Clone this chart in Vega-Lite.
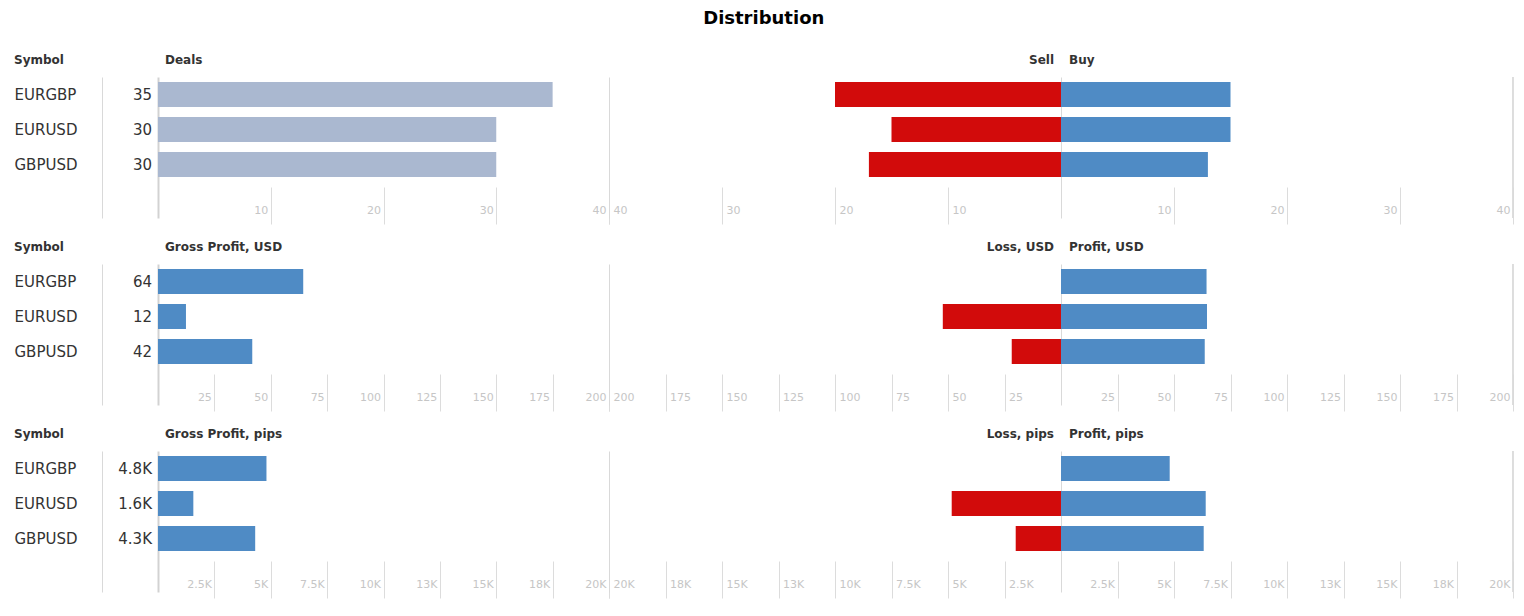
{
  "$schema": "https://vega.github.io/schema/vega-lite/v6.json",
  "title": {"text": "Distribution", "fontSize": 18, "fontWeight": "bold", "color": "#000000", "anchor": "middle", "frame": "bounds", "offset": 26},
  "padding": {"left": 14, "top": 9, "right": 10, "bottom": 10},
  "data": {"values": [
    {"Symbol": "EURGBP", "Deals": 35, "Sell": 20, "Buy": 15, "GrossUSD": 64.4, "LossUSD": 0, "ProfitUSD": 64.4, "GrossPips": 4810, "LossPips": 0, "ProfitPips": 4810},
    {"Symbol": "EURUSD", "Deals": 30, "Sell": 15, "Buy": 15, "GrossUSD": 12.4, "LossUSD": 52.3, "ProfitUSD": 64.6, "GrossPips": 1567, "LossPips": 4836, "ProfitPips": 6403},
    {"Symbol": "GBPUSD", "Deals": 30, "Sell": 17, "Buy": 13, "GrossUSD": 41.8, "LossUSD": 21.8, "ProfitUSD": 63.6, "GrossPips": 4310, "LossPips": 2004, "ProfitPips": 6314}
  ]},
  "bounds": "full",
  "spacing": 15,
  "vconcat": [
    {
      "bounds": "flush",
      "spacing": 0,
      "hconcat": [
        {
          "width": 56, "height": 141,
          "title": {"text": "Symbol", "anchor": "start", "dx": -88},
          "mark": {"type": "text", "align": "right", "baseline": "middle", "dx": -6, "fontSize": 15, "color": "#333333"},
          "encoding": {
            "y": {"field": "Symbol", "type": "nominal", "scale": {"type": "band", "paddingInner": 0.2857, "paddingOuter": 0.657, "align": 0.1087}, "axis": {"labels": true, "labelAlign": "left", "labelPadding": 88, "labelFontSize": 15, "labelColor": "#333333", "labelBaseline": "middle"}},
            "x": {"datum": 1, "type": "quantitative", "scale": {"domain": [0, 1]}, "axis": null},
            "text": {"field": "Deals", "type": "quantitative", "format": "d"}
          }
        },
        {
          "width": 451, "height": 141,
          "title": {"text": "Deals", "anchor": "start", "dx": 7},
          "mark": {"type": "bar", "color": "#aab8d0"},
          "encoding": {
            "y": {"field": "Symbol", "type": "nominal", "scale": {"type": "band", "paddingInner": 0.2857, "paddingOuter": 0.657, "align": 0.1087}, "axis": {"domainWidth": 2, "domainColor": "#d2d2d2"}},
            "x": {"field": "Deals", "type": "quantitative", "scale": {"domain": [0, 40]}, "axis": {"values": [10, 20, 30, 40], "labelAlign": "right", "labelOffset": -3}}
          }
        },
        {
          "width": 452, "height": 141,
          "title": {"text": "Sell", "anchor": "end", "dx": -7},
          "mark": {"type": "bar", "color": "#d20b0b"},
          "encoding": {
            "y": {"field": "Symbol", "type": "nominal", "scale": {"type": "band", "paddingInner": 0.2857, "paddingOuter": 0.657, "align": 0.1087}},
            "x": {"field": "Sell", "type": "quantitative", "scale": {"domain": [0, 40], "reverse": true}, "axis": {"values": [10, 20, 30, 40], "labelAlign": "left", "labelOffset": 4}}
          }
        },
        {
          "width": 452, "height": 141,
          "title": {"text": "Buy", "anchor": "start", "dx": 8},
          "layer": [
            {
              "mark": {"type": "bar", "color": "#4f8bc5"},
              "encoding": {
                "y": {"field": "Symbol", "type": "nominal", "scale": {"type": "band", "paddingInner": 0.2857, "paddingOuter": 0.657, "align": 0.1087}},
                "x": {"field": "Buy", "type": "quantitative", "scale": {"domain": [0, 40]}, "axis": {"values": [10, 20, 30, 40], "labelAlign": "right", "labelOffset": -3}}
              }
            },
            {
              "mark": {"type": "rule", "color": "#d9d9d9"},
              "encoding": {"x": {"datum": 40, "type": "quantitative"}}
            }
          ]
        }
      ]
    },
    {
      "bounds": "flush",
      "spacing": 0,
      "hconcat": [
        {
          "width": 56, "height": 141,
          "title": {"text": "Symbol", "anchor": "start", "dx": -88},
          "mark": {"type": "text", "align": "right", "baseline": "middle", "dx": -6, "fontSize": 15, "color": "#333333"},
          "encoding": {
            "y": {"field": "Symbol", "type": "nominal", "scale": {"type": "band", "paddingInner": 0.2857, "paddingOuter": 0.657, "align": 0.1087}, "axis": {"labels": true, "labelAlign": "left", "labelPadding": 88, "labelFontSize": 15, "labelColor": "#333333", "labelBaseline": "middle"}},
            "x": {"datum": 1, "type": "quantitative", "scale": {"domain": [0, 1]}, "axis": null},
            "text": {"field": "GrossUSD", "type": "quantitative", "format": "d"}
          }
        },
        {
          "width": 451, "height": 141,
          "title": {"text": "Gross Profit, USD", "anchor": "start", "dx": 7},
          "mark": {"type": "bar", "color": "#4f8bc5"},
          "encoding": {
            "y": {"field": "Symbol", "type": "nominal", "scale": {"type": "band", "paddingInner": 0.2857, "paddingOuter": 0.657, "align": 0.1087}, "axis": {"domainWidth": 2, "domainColor": "#d2d2d2"}},
            "x": {"field": "GrossUSD", "type": "quantitative", "scale": {"domain": [0, 200]}, "axis": {"values": [25, 50, 75, 100, 125, 150, 175, 200], "labelAlign": "right", "labelOffset": -3}}
          }
        },
        {
          "width": 452, "height": 141,
          "title": {"text": "Loss, USD", "anchor": "end", "dx": -7},
          "mark": {"type": "bar", "color": "#d20b0b"},
          "encoding": {
            "y": {"field": "Symbol", "type": "nominal", "scale": {"type": "band", "paddingInner": 0.2857, "paddingOuter": 0.657, "align": 0.1087}},
            "x": {"field": "LossUSD", "type": "quantitative", "scale": {"domain": [0, 200], "reverse": true}, "axis": {"values": [25, 50, 75, 100, 125, 150, 175, 200], "labelAlign": "left", "labelOffset": 4}}
          }
        },
        {
          "width": 452, "height": 141,
          "title": {"text": "Profit, USD", "anchor": "start", "dx": 8},
          "layer": [
            {
              "mark": {"type": "bar", "color": "#4f8bc5"},
              "encoding": {
                "y": {"field": "Symbol", "type": "nominal", "scale": {"type": "band", "paddingInner": 0.2857, "paddingOuter": 0.657, "align": 0.1087}},
                "x": {"field": "ProfitUSD", "type": "quantitative", "scale": {"domain": [0, 200]}, "axis": {"values": [25, 50, 75, 100, 125, 150, 175, 200], "labelAlign": "right", "labelOffset": -3}}
              }
            },
            {
              "mark": {"type": "rule", "color": "#d9d9d9"},
              "encoding": {"x": {"datum": 200, "type": "quantitative"}}
            }
          ]
        }
      ]
    },
    {
      "bounds": "flush",
      "spacing": 0,
      "hconcat": [
        {
          "width": 56, "height": 141,
          "title": {"text": "Symbol", "anchor": "start", "dx": -88},
          "transform": [{"calculate": "replace(format(datum.GrossPips, '.2~s'), 'k', 'K')", "as": "GrossPipsLabel"}],
          "mark": {"type": "text", "align": "right", "baseline": "middle", "dx": -6, "fontSize": 15, "color": "#333333"},
          "encoding": {
            "y": {"field": "Symbol", "type": "nominal", "scale": {"type": "band", "paddingInner": 0.2857, "paddingOuter": 0.657, "align": 0.1087}, "axis": {"labels": true, "labelAlign": "left", "labelPadding": 88, "labelFontSize": 15, "labelColor": "#333333", "labelBaseline": "middle"}},
            "x": {"datum": 1, "type": "quantitative", "scale": {"domain": [0, 1]}, "axis": null},
            "text": {"field": "GrossPipsLabel", "type": "nominal"}
          }
        },
        {
          "width": 451, "height": 141,
          "title": {"text": "Gross Profit, pips", "anchor": "start", "dx": 7},
          "mark": {"type": "bar", "color": "#4f8bc5"},
          "encoding": {
            "y": {"field": "Symbol", "type": "nominal", "scale": {"type": "band", "paddingInner": 0.2857, "paddingOuter": 0.657, "align": 0.1087}, "axis": {"domainWidth": 2, "domainColor": "#d2d2d2"}},
            "x": {"field": "GrossPips", "type": "quantitative", "scale": {"domain": [0, 20000]}, "axis": {"values": [2500, 5000, 7500, 10000, 12500, 15000, 17500, 20000], "labelExpr": "replace(format(datum.value, '.2~s'), 'k', 'K')", "labelAlign": "right", "labelOffset": -3}}
          }
        },
        {
          "width": 452, "height": 141,
          "title": {"text": "Loss, pips", "anchor": "end", "dx": -7},
          "mark": {"type": "bar", "color": "#d20b0b"},
          "encoding": {
            "y": {"field": "Symbol", "type": "nominal", "scale": {"type": "band", "paddingInner": 0.2857, "paddingOuter": 0.657, "align": 0.1087}},
            "x": {"field": "LossPips", "type": "quantitative", "scale": {"domain": [0, 20000], "reverse": true}, "axis": {"values": [2500, 5000, 7500, 10000, 12500, 15000, 17500, 20000], "labelExpr": "replace(format(datum.value, '.2~s'), 'k', 'K')", "labelAlign": "left", "labelOffset": 4}}
          }
        },
        {
          "width": 452, "height": 141,
          "title": {"text": "Profit, pips", "anchor": "start", "dx": 8},
          "layer": [
            {
              "mark": {"type": "bar", "color": "#4f8bc5"},
              "encoding": {
                "y": {"field": "Symbol", "type": "nominal", "scale": {"type": "band", "paddingInner": 0.2857, "paddingOuter": 0.657, "align": 0.1087}},
                "x": {"field": "ProfitPips", "type": "quantitative", "scale": {"domain": [0, 20000]}, "axis": {"values": [2500, 5000, 7500, 10000, 12500, 15000, 17500, 20000], "labelExpr": "replace(format(datum.value, '.2~s'), 'k', 'K')", "labelAlign": "right", "labelOffset": -3}}
              }
            },
            {
              "mark": {"type": "rule", "color": "#d9d9d9"},
              "encoding": {"x": {"datum": 20000, "type": "quantitative"}}
            }
          ]
        }
      ]
    }
  ],
  "config": {
    "font": "DejaVu Sans",
    "view": {"stroke": null},
    "title": {"fontSize": 12, "fontWeight": "bold", "color": "#333333", "offset": 10, "frame": "group"},
    "axisX": {"domain": false, "grid": false, "ticks": true, "tickSize": 37, "tickColor": "#dcdcdc", "labelColor": "#c6c6c6", "labelFontSize": 11, "labelBaseline": "top", "labelPadding": -20, "offset": -31, "labelFlush": false, "labelOverlap": false, "title": null},
    "axisY": {"domain": true, "domainColor": "#d9d9d9", "ticks": false, "tickSize": 0, "labels": false, "title": null, "grid": false, "zindex": 1}
  }
}
